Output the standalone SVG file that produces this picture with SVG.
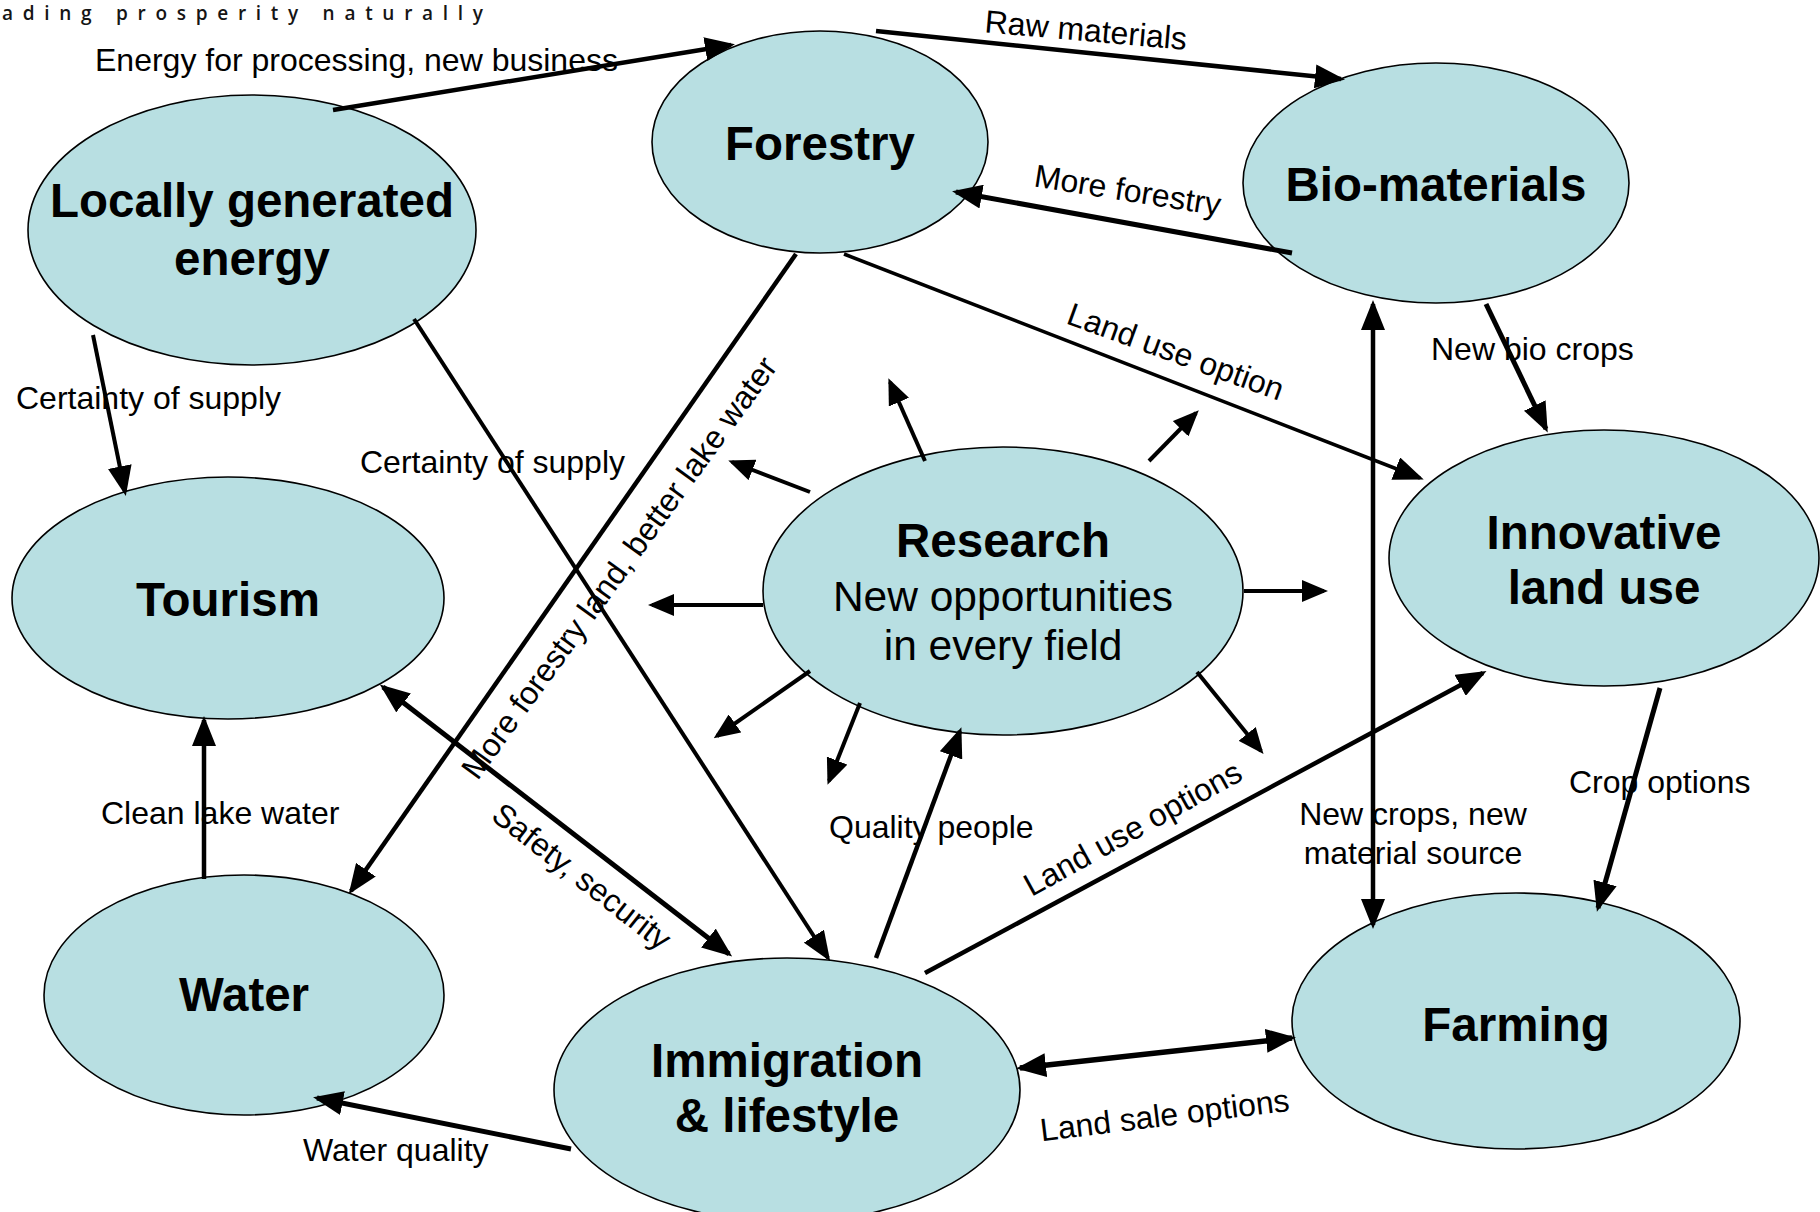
<svg xmlns="http://www.w3.org/2000/svg" width="1820" height="1212" viewBox="0 0 1820 1212">
<style>
.node ellipse{fill:#b8dfe2;stroke:#000;stroke-width:1.6}
.nt{font-family:"Liberation Sans",Arial,sans-serif;font-weight:bold;font-size:47.5px;fill:#000;text-anchor:middle}
.nr{font-family:"Liberation Sans",Arial,sans-serif;font-size:42.5px;fill:#000;text-anchor:middle}
.lb{font-family:"Liberation Sans",Arial,sans-serif;font-size:32px;fill:#000}
.c{stroke:#000;fill:none;marker-end:url(#ah)}
.d{stroke:#000;fill:none;marker-start:url(#ah);marker-end:url(#ah)}
.r{stroke:#000;fill:none;stroke-width:4;marker-end:url(#ahs)}
</style>
<defs>
<marker id="ah" markerUnits="userSpaceOnUse" markerWidth="30" markerHeight="24" viewBox="0 0 30 24" refX="26" refY="12" orient="auto-start-reverse"><path d="M0,0 L30,12 L0,24 z" fill="#000"/></marker>
<marker id="ahs" markerUnits="userSpaceOnUse" markerWidth="26" markerHeight="22" viewBox="0 0 26 22" refX="22" refY="11" orient="auto"><path d="M0,0 L26,11 L0,22 z" fill="#000"/></marker>
</defs>
<rect width="1820" height="1212" fill="#fff"/>
<text x="2" y="20" font-family="'Open Sans','DejaVu Sans',sans-serif" font-size="19" font-weight="600" fill="#151515" textLength="481" lengthAdjust="spacing">ading prosperity naturally</text>

<g id="labels">
<text class="lb" x="95" y="71">Energy for processing, new business</text>
<text class="lb" x="1085" y="41" text-anchor="middle" transform="rotate(5 1085 41)">Raw materials</text>
<text class="lb" x="1126" y="201" text-anchor="middle" transform="rotate(9 1126 201)">More forestry</text>
<text class="lb" x="1172" y="362" text-anchor="middle" transform="rotate(20 1172 362)">Land use option</text>
<text class="lb" x="16" y="409">Certainty of supply</text>
<text class="lb" x="360" y="473">Certainty of supply</text>
<text class="lb" x="628" y="574" text-anchor="middle" transform="rotate(-54 628 574)">More forestry land, better lake water</text>
<text class="lb" x="101" y="824">Clean lake water</text>
<text class="lb" x="575" y="885" text-anchor="middle" transform="rotate(38 575 885)">Safety, security</text>
<text class="lb" x="829" y="838">Quality people</text>
<text class="lb" x="1138" y="838" text-anchor="middle" transform="rotate(-29 1138 838)">Land use options</text>
<text class="lb" x="1166" y="1126" text-anchor="middle" transform="rotate(-7 1166 1126)">Land sale options</text>
<text class="lb" x="303" y="1161">Water quality</text>
<text class="lb" x="1413" y="825" text-anchor="middle">New crops, new</text>
<text class="lb" x="1413" y="864" text-anchor="middle">material source</text>
<text class="lb" x="1431" y="360">New bio crops</text>
<text class="lb" x="1569" y="793">Crop options</text>
</g>

<g id="energy" class="node"><ellipse cx="252" cy="230" rx="224" ry="135"/><text class="nt" x="252" y="217">Locally generated</text><text class="nt" x="252" y="275">energy</text></g>
<g id="forestry" class="node"><ellipse cx="820" cy="142" rx="168" ry="111"/><text class="nt" x="820" y="160">Forestry</text></g>
<g id="biomaterials" class="node"><ellipse cx="1436" cy="183" rx="193" ry="120"/><text class="nt" x="1436" y="201">Bio-materials</text></g>
<g id="tourism" class="node"><ellipse cx="228" cy="598" rx="216" ry="121"/><text class="nt" x="228" y="616">Tourism</text></g>
<g id="research" class="node"><ellipse cx="1003" cy="591" rx="240" ry="144"/><text class="nt" x="1003" y="557">Research</text><text class="nr" x="1003" y="611">New opportunities</text><text class="nr" x="1003" y="660">in every field</text></g>
<g id="innovative" class="node"><ellipse cx="1604" cy="558" rx="215" ry="128"/><text class="nt" x="1604" y="549">Innovative</text><text class="nt" x="1604" y="604">land use</text></g>
<g id="water" class="node"><ellipse cx="244" cy="995" rx="200" ry="120"/><text class="nt" x="244" y="1011">Water</text></g>
<g id="immigration" class="node"><ellipse cx="787" cy="1090" rx="233" ry="132"/><text class="nt" x="787" y="1077">Immigration</text><text class="nt" x="787" y="1132">&amp; lifestyle</text></g>
<g id="farming" class="node"><ellipse cx="1516" cy="1021" rx="224" ry="128"/><text class="nt" x="1516" y="1041">Farming</text></g>

<g id="connectors">
<path class="c" stroke-width="4.5" d="M333,110 L731,45"/>
<path class="c" stroke-width="4.5" d="M876,31 L1341,79"/>
<path class="c" stroke-width="5" d="M1292,253 L956,192"/>
<path class="c" stroke-width="3.5" d="M844,254 L1420,478"/>
<path class="c" stroke-width="4.5" d="M796,254 L351,891"/>
<path class="c" stroke-width="4" d="M414,319 L828,958"/>
<path class="c" stroke-width="4" d="M93,335 L125,492"/>
<path class="c" stroke-width="4.5" d="M204,879 L204,720"/>
<path class="d" stroke-width="5" d="M383,687 L729,954"/>
<path class="c" stroke-width="4.5" d="M876,958 L960,731"/>
<path class="c" stroke-width="4.5" d="M925,973 L1483,673"/>
<path class="d" stroke-width="5.5" d="M1020,1068 L1292,1038"/>
<path class="c" stroke-width="5" d="M571,1149 L317,1098"/>
<path class="d" stroke-width="4.5" d="M1373,304 L1373,925"/>
<path class="c" stroke-width="5" d="M1486,304 L1546,429"/>
<path class="c" stroke-width="5" d="M1660,688 L1598,908"/>
<path class="r" d="M925,461 L890,382"/>
<path class="r" d="M1149,461 L1196,413"/>
<path class="r" d="M810,492 L732,462"/>
<path class="r" d="M763,605 L652,605"/>
<path class="r" d="M1244,591 L1324,591"/>
<path class="r" d="M810,671 L717,736"/>
<path class="r" d="M860,703 L829,781"/>
<path class="r" d="M1197,672 L1261,751"/>
</g>
</svg>
